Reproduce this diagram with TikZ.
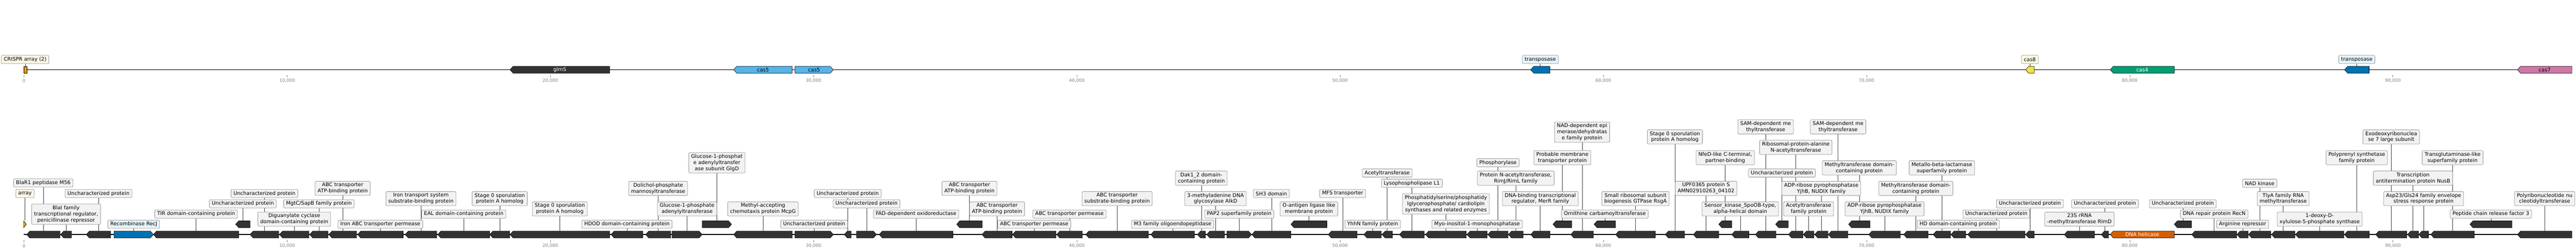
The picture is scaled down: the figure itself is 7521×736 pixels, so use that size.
\documentclass[tikz,border=0pt]{standalone}
\usepackage{fontspec}
\setmainfont{DejaVu Sans}
\usetikzlibrary{positioning}

\definecolor{genedark}{HTML}{333333}
\definecolor{crispr}{HTML}{E69F00}
\definecolor{tnpblue}{HTML}{0072B2}
\definecolor{casblue}{HTML}{56B4E9}
\definecolor{casyellow}{HTML}{F0E442}
\definecolor{casgreen}{HTML}{009E73}
\definecolor{helicase}{HTML}{D55E00}
\definecolor{caspink}{HTML}{CC79A7}
\definecolor{boxgray}{HTML}{F2F2F2}
\definecolor{boxline}{HTML}{999999}
\definecolor{boxcream}{HTML}{FEF6E6}
\definecolor{boxblue}{HTML}{E6F4FB}
\definecolor{boxyellow}{HTML}{FDFBE3}

\newcommand{\lblfont}{\fontsize{15}{18}\selectfont}
\newcommand{\tickfont}{\fontsize{13}{15}\selectfont}

\pgfdeclarelayer{bg}
\pgfsetlayers{bg,main}

% gene arrow: name, start, end, y, direction (L/R/N), fill, text
\newcommand{\gene}[7]{%
  \pgfmathsetmacro{\gtip}{min(9,#3-#2)}%
  \if#5N\def\gtip{0}\fi
  \if#5L
    \filldraw[genebody,#6] (#2,#4) -- (#2+\gtip,#4-10) -- (#3,#4-10) -- (#3,#4+10) -- (#2+\gtip,#4+10) -- cycle;
  \else
    \filldraw[genebody,#6] (#3,#4) -- (#3-\gtip,#4-10) -- (#2,#4-10) -- (#2,#4+10) -- (#3-\gtip,#4+10) -- cycle;
  \fi
  \node[genetext,minimum width={#3-#2}] (#1) at ({(#2+#3)/2},#4) {#7};
}

\begin{document}
\begin{tikzpicture}[x=1pt,y=-1pt,
  track/.style={line width=2.2pt},
  genebody/.style={draw=black,line width=0.9pt},
  dark/.style={fill=genedark},
  genetext/.style={inner sep=0pt,minimum height=20pt,font=\lblfont},
  lbl/.style={draw=boxline,fill=boxgray,rounded corners=3pt,line width=1.2pt,inner xsep=7pt,inner ysep=4.5pt,minimum height=24pt,align=center,font=\lblfont},
  conn/.style={draw=black!75,line width=0.8pt},
  tickmark/.style={draw=gray,line width=0.8pt},
  ticklbl/.style={text=gray,font=\tickfont,inner sep=0pt}]
\useasboundingbox (0,0) rectangle (7521,736);

% backbones
\draw[track] (69,204) -- (7509,204);
\draw[track] (69,686) -- (7509,686);

% ruler
\foreach \x/\t [count=\i] in {70/0,838.5/{10,000},1607/{20,000},2375.5/{30,000},3144/{40,000},3912.5/{50,000},4681/{60,000},5449.5/{70,000},6218/{80,000},6986.5/{90,000}} {
  \draw[tickmark] (\x,220) -- (\x,225);
  \node[ticklbl] (tt\i) at (\x,236) {\t};
  \draw[tickmark] (\x,703) -- (\x,708);
  \node[ticklbl] (bt\i) at (\x,719) {\t};
}

% top track
\gene{t1}{69}{78}{204}{N}{fill=crispr}{}
\gene{t2}{1489}{1780}{204}{L}{dark}{\color{white}glmS}
\gene{t3}{2142}{2313}{204}{L}{fill=casblue}{cas5}
\gene{t4}{2321}{2433}{204}{R}{fill=casblue}{cas5}
\gene{t5}{4469}{4525}{204}{L}{fill=tnpblue}{}
\gene{t6}{5914}{5939}{204}{L}{fill=casyellow}{}
\gene{t7}{6161}{6348}{204}{L}{fill=casgreen}{\color{white}cas4}
\gene{t8}{6845}{6917}{204}{L}{fill=tnpblue}{}
\gene{t9}{7350}{7509}{204}{L}{fill=caspink}{cas7}

\node[lbl,fill=boxcream] (lt1) at (t1.north |- 0,174) {CRISPR array (2)};
\node[lbl,fill=boxblue] (lt5) at (t5.north |- 0,174) {transposase};
\node[lbl,fill=boxyellow] (lt6) at (t6.north |- 0,174) {cas8};
\node[lbl,fill=boxblue] (lt8) at (t8.north |- 0,174) {transposase};

% bottom track
\gene{b1}{69}{77}{656}{R}{fill=crispr}{}
\gene{b2}{78}{175}{686}{L}{dark}{}
\gene{b3}{177}{209}{686}{L}{dark}{}
\gene{b4}{252}{323}{686}{L}{dark}{}
\gene{b5}{333}{448}{686}{R}{fill=tnpblue}{}
\gene{b6}{448}{697}{686}{L}{dark}{}
\gene{b7}{688}{730}{656}{L}{dark}{}
\gene{b8}{730}{814}{686}{L}{dark}{}
\gene{b9}{816}{902}{686}{L}{dark}{}
\gene{b10}{904}{958}{686}{L}{dark}{}
\gene{b11}{960}{1041}{686}{L}{dark}{}
\gene{b12}{1044}{1177}{686}{L}{dark}{}
\gene{b13}{1183}{1275}{686}{L}{dark}{}
\gene{b14}{1278}{1430}{686}{L}{dark}{}
\gene{b15}{1430}{1488}{686}{L}{dark}{}
\gene{b16}{1489}{1780}{686}{L}{dark}{}
\gene{b17}{1784}{1877}{686}{L}{dark}{}
\gene{b18}{1885}{1958}{686}{L}{dark}{}
\gene{b19}{1962}{2050}{686}{R}{dark}{}
\gene{b20}{2050}{2136}{656}{R}{dark}{}
\gene{b21}{2142}{2313}{686}{L}{dark}{}
\gene{b22}{2321}{2433}{686}{R}{dark}{}
\gene{b23}{2465}{2485}{686}{L}{dark}{}
\gene{b24}{2501}{2559}{686}{R}{dark}{}
\gene{b25}{2567}{2782}{686}{L}{dark}{}
\gene{b26}{2793}{2868}{656}{L}{dark}{}
\gene{b27}{2867}{2955}{686}{L}{dark}{}
\gene{b28}{2956}{3083}{686}{L}{dark}{}
\gene{b29}{3085}{3160}{686}{L}{dark}{}
\gene{b30}{3170}{3353}{686}{L}{dark}{}
\gene{b31}{3360}{3487}{686}{L}{dark}{}
\gene{b32}{3496}{3519}{686}{L}{dark}{}
\gene{b33}{3523}{3575}{686}{L}{dark}{}
\gene{b34}{3582}{3654}{686}{R}{dark}{}
\gene{b35}{3655}{3769}{686}{L}{dark}{}
\gene{b36}{3769}{3874}{656}{L}{dark}{}
\gene{b37}{3878}{3962}{686}{L}{dark}{}
\gene{b38}{3982}{4033}{686}{L}{dark}{}
\gene{b39}{4035}{4065}{686}{L}{dark}{}
\gene{b40}{4086}{4158}{686}{L}{dark}{}
\gene{b41}{4162}{4281}{686}{L}{dark}{}
\gene{b42}{4283}{4342}{686}{L}{dark}{}
\gene{b43}{4344}{4403}{686}{L}{dark}{}
\gene{b44}{4404}{4447}{686}{L}{dark}{}
\gene{b45}{4469}{4525}{686}{L}{dark}{}
\gene{b46}{4534}{4589}{656}{L}{dark}{}
\gene{b47}{4586}{4652}{686}{L}{dark}{}
\gene{b48}{4654}{4717}{656}{L}{dark}{}
\gene{b49}{4717}{4833}{686}{L}{dark}{}
\gene{b50}{4862}{4918}{686}{L}{dark}{}
\gene{b51}{4944}{5018}{686}{L}{dark}{}
\gene{b52}{5018}{5056}{656}{L}{dark}{}
\gene{b53}{5056}{5106}{686}{L}{dark}{}
\gene{b54}{5125}{5185}{686}{L}{dark}{}
\gene{b55}{5184}{5221}{656}{L}{dark}{}
\gene{b56}{5222}{5264}{686}{L}{dark}{}
\gene{b57}{5265}{5296}{686}{L}{dark}{}
\gene{b58}{5298}{5337}{686}{L}{dark}{}
\gene{b59}{5338}{5395}{686}{L}{dark}{}
\gene{b60}{5397}{5460}{656}{L}{dark}{}
\gene{b61}{5456}{5548}{686}{L}{dark}{}
\gene{b62}{5558}{5629}{686}{L}{dark}{}
\gene{b63}{5644}{5695}{686}{L}{dark}{}
\gene{b64}{5696}{5739}{686}{L}{dark}{}
\gene{b65}{5745}{5912}{686}{L}{dark}{}
\gene{b66}{5914}{5939}{686}{L}{dark}{}
\gene{b67}{6027}{6115}{686}{L}{dark}{}
\gene{b68}{6135}{6156}{686}{L}{dark}{}
\gene{b69}{6161}{6348}{686}{L}{fill=helicase}{\color{white}DNA helicase}
\gene{b70}{6348}{6398}{656}{L}{dark}{}
\gene{b71}{6399}{6530}{686}{L}{dark}{}
\gene{b72}{6531}{6564}{686}{L}{dark}{}
\gene{b73}{6565}{6630}{686}{L}{dark}{}
\gene{b74}{6632}{6700}{686}{L}{dark}{}
\gene{b75}{6702}{6843}{686}{L}{dark}{}
\gene{b76}{6845}{6917}{686}{L}{dark}{}
\gene{b77}{6936}{7027}{686}{L}{dark}{}
\gene{b78}{7029}{7061}{686}{L}{dark}{}
\gene{b79}{7062}{7090}{686}{L}{dark}{}
\gene{b80}{7097}{7224}{686}{L}{dark}{}
\gene{b81}{7211}{7334}{656}{L}{dark}{}
\gene{b82}{7350}{7509}{686}{L}{dark}{}

% labels
\node[lbl,fill=boxcream] (lb1) at (b1.north |- 0,566) {array};
\node[lbl] (lb2) at (b2.north |- 0,535) {BlaR1 peptidase M56};
\node[lbl] (lb3) at (b3.north |- 0,626.5) {BlaI family\\transcriptional regulator,\\penicillinase repressor};
\node[lbl] (lb4) at (b4.north |- 0,566) {Uncharacterized protein};
\node[lbl,fill=boxblue] (lb5) at (b5.north |- 0,656) {Recombinase RecJ};
\node[lbl] (lb6) at (b6.north |- 0,626) {TIR domain-containing protein};
\node[lbl] (lb7) at (b7.north |- 0,596) {Uncharacterized protein};
\node[lbl] (lb8) at (b8.north |- 0,566) {Uncharacterized protein};
\node[lbl] (lb9) at (b9.north |- 0,641) {Diguanylate cyclase\\domain-containing protein};
\node[lbl] (lb10) at (b10.north |- 0,596) {MgtC/SapB family protein};
\node[lbl] (lb11) at (b11.north |- 0,551) {ABC transporter\\ATP-binding protein};
\node[lbl] (lb12) at (b12.north |- 0,656) {Iron ABC transporter permease};
\node[lbl] (lb13) at (b13.north |- 0,581) {Iron transport system\\substrate-binding protein};
\node[lbl] (lb14) at (b14.north |- 0,626) {EAL domain-containing protein};
\node[lbl] (lb15) at (b15.north |- 0,581) {Stage 0 sporulation\\protein A homolog};
\node[lbl] (lb16) at (b16.north |- 0,611) {Stage 0 sporulation\\protein A homolog};
\node[lbl] (lb17) at (b17.north |- 0,656) {HDOD domain-containing protein};
\node[lbl] (lb18) at (b18.north |- 0,551) {Dolichol-phosphate\\mannosyltransferase};
\node[lbl] (lb19) at (b19.north |- 0,611) {Glucose-1-phosphate\\adenylyltransferase};
\node[lbl] (lb20) at (b20.north |- 0,476) {Glucose-1-phosphat\\e adenylyltransfer\\ase subunit GlgD};
\node[lbl] (lb21) at (b21.north |- 0,611) {Methyl-accepting\\chemotaxis protein McpG};
\node[lbl] (lb22) at (b22.north |- 0,656) {Uncharacterized protein};
\node[lbl] (lb23) at (b23.north |- 0,566) {Uncharacterized protein};
\node[lbl] (lb24) at (b24.north |- 0,596) {Uncharacterized protein};
\node[lbl] (lb25) at (b25.north |- 0,626) {FAD-dependent oxidoreductase};
\node[lbl] (lb26) at (b26.north |- 0,551) {ABC transporter\\ATP-binding protein};
\node[lbl] (lb27) at (b27.north |- 0,611) {ABC transporter\\ATP-binding protein};
\node[lbl] (lb28) at (b28.north |- 0,656) {ABC transporter permease};
\node[lbl] (lb29) at (b29.north |- 0,626) {ABC transporter permease};
\node[lbl] (lb30) at (b30.north |- 0,581) {ABC transporter\\substrate-binding protein};
\node[lbl] (lb31) at (b31.north |- 0,656) {M3 family oligoendopeptidase};
\node[lbl] (lb32) at (b32.north |- 0,521) {Dak1\_2 domain-\\containing protein};
\node[lbl] (lb33) at (b33.north |- 0,581) {3-methyladenine DNA\\glycosylase AlkD};
\node[lbl] (lb34) at (b34.north |- 0,626) {PAP2 superfamily protein};
\node[lbl] (lb35) at (b35.north |- 0,566) {SH3 domain};
\node[lbl] (lb36) at (b36.north |- 0,611) {O-antigen ligase like\\membrane protein};
\node[lbl] (lb37) at (b37.north |- 0,566) {MFS transporter};
\node[lbl] (lb38) at (b38.north |- 0,656) {YhhN family protein};
\node[lbl] (lb39) at (b39.north |- 0,506) {Acetyltransferase};
\node[lbl] (lb40) at (b40.north |- 0,536) {Lysophospholipase L1};
\node[lbl] (lb41) at (b41.north |- 0,596.5) {Phosphatidylserine/phosphatidy\\lglycerophosphate/ cardiolipin\\synthases and related enzymes};
\node[lbl] (lb42) at (b42.north |- 0,656) {Myo-inositol-1-monophosphatase};
\node[lbl] (lb43) at (b43.north |- 0,476) {Phosphorylase};
\node[lbl] (lb44) at (b44.north |- 0,521) {Protein N-acetyltransferase,\\RimJ/RimL family};
\node[lbl] (lb45) at (b45.north |- 0,581) {DNA-binding transcriptional\\regulator, MerR family};
\node[lbl] (lb46) at (b46.north |- 0,461) {Probable membrane\\transporter protein};
\node[lbl] (lb47) at (b47.north |- 0,386.5) {NAD-dependent epi\\merase/dehydratas\\e family protein};
\node[lbl] (lb48) at (b48.north |- 0,626) {Ornithine carbamoyltransferase};
\node[lbl] (lb49) at (b49.north |- 0,581) {Small ribosomal subunit\\biogenesis GTPase RsgA};
\node[lbl] (lb50) at (b50.north |- 0,400.5) {Stage 0 sporulation\\protein A homolog};
\node[lbl] (lb51) at (b51.north |- 0,551) {UPF0365 protein S\\AMN02910263\_04102};
\node[lbl] (lb52) at (b52.north |- 0,461) {NfeD-like C-terminal,\\partner-binding};
\node[lbl] (lb53) at (b53.north |- 0,611) {Sensor\_kinase\_SpoOB-type,\\alpha-helical domain};
\node[lbl] (lb54) at (b54.north |- 0,371) {SAM-dependent me\\thyltransferase};
\node[lbl] (lb55) at (b55.north |- 0,506) {Uncharacterized protein};
\node[lbl] (lb56) at (b56.north |- 0,431) {Ribosomal-protein-alanine\\N-acetyltransferase};
\node[lbl] (lb57) at (b57.north |- 0,611) {Acetyltransferase\\family protein};
\node[lbl] (lb58) at (b58.north |- 0,551) {ADP-ribose pyrophosphatase\\YjhB, NUDIX family};
\node[lbl] (lb59) at (b59.north |- 0,371) {SAM-dependent me\\thyltransferase};
\node[lbl] (lb60) at (b60.north |- 0,491) {Methyltransferase domain-\\containing protein};
\node[lbl] (lb61) at (b61.north |- 0,611) {ADP-ribose pyrophosphatase\\YjhB, NUDIX family};
\node[lbl] (lb62) at (b62.north |- 0,551) {Methyltransferase domain-\\containing protein};
\node[lbl] (lb63) at (b63.north |- 0,491) {Metallo-beta-lactamase\\superfamily protein};
\node[lbl] (lb64) at (b64.north |- 0,656) {HD domain-containing protein};
\node[lbl] (lb65) at (b65.north |- 0,626) {Uncharacterized protein};
\node[lbl] (lb66) at (b66.north |- 0,596) {Uncharacterized protein};
\node[lbl] (lb67) at (b67.north |- 0,641) {23S rRNA\\-methyltransferase RlmD};
\node[lbl] (lb68) at (b68.north |- 0,596) {Uncharacterized protein};
\node[lbl] (lb70) at (b70.north |- 0,596) {Uncharacterized protein};
\node[lbl] (lb71) at (b71.north |- 0,626) {DNA repair protein RecN};
\node[lbl] (lb72) at (b72.north |- 0,656) {Arginine repressor};
\node[lbl] (lb73) at (b73.north |- 0,536) {NAD kinase};
\node[lbl] (lb74) at (b74.north |- 0,581) {TlyA family RNA\\methyltransferase};
\node[lbl] (lb75) at (b75.north |- 0,641) {1-deoxy-D-\\xylulose-5-phosphate synthase};
\node[lbl] (lb76) at (b76.north |- 0,461) {Polyprenyl synthetase\\family protein};
\node[lbl] (lb77) at (b77.north |- 0,400.5) {Exodeoxyribonuclea\\se 7 large subunit};
\node[lbl] (lb78) at (b78.north |- 0,521) {Transcription\\antitermination protein NusB};
\node[lbl] (lb79) at (b79.north |- 0,581) {Asp23/Gls24 family envelope\\stress response protein};
\node[lbl] (lb80) at (b80.north |- 0,461) {Transglutaminase-like\\superfamily protein};
\node[lbl] (lb81) at (b81.north |- 0,626) {Peptide chain release factor 3};
\node[lbl] (lb82) at (b82.north |- 0,581) {Polyribonucleotide nu\\cleotidyltransferase};

% leader lines, behind the boxes
\begin{pgfonlayer}{bg}
\draw[conn] (lt1) -- (t1.north);
\draw[conn] (lt5) -- (t5.north);
\draw[conn] (lt6) -- (t6.north);
\draw[conn] (lt8) -- (t8.north);
\draw[conn] (lb1) -- (b1.north);
\draw[conn] (lb2) -- (b2.north);
\draw[conn] (lb3) -- (b3.north);
\draw[conn] (lb4) -- (b4.north);
\draw[conn] (lb5) -- (b5.north);
\draw[conn] (lb6) -- (b6.north);
\draw[conn] (lb7) -- (b7.north);
\draw[conn] (lb8) -- (b8.north);
\draw[conn] (lb9) -- (b9.north);
\draw[conn] (lb10) -- (b10.north);
\draw[conn] (lb11) -- (b11.north);
\draw[conn] (lb12) -- (b12.north);
\draw[conn] (lb13) -- (b13.north);
\draw[conn] (lb14) -- (b14.north);
\draw[conn] (lb15) -- (b15.north);
\draw[conn] (lb16) -- (b16.north);
\draw[conn] (lb17) -- (b17.north);
\draw[conn] (lb18) -- (b18.north);
\draw[conn] (lb19) -- (b19.north);
\draw[conn] (lb20) -- (b20.north);
\draw[conn] (lb21) -- (b21.north);
\draw[conn] (lb22) -- (b22.north);
\draw[conn] (lb23) -- (b23.north);
\draw[conn] (lb24) -- (b24.north);
\draw[conn] (lb25) -- (b25.north);
\draw[conn] (lb26) -- (b26.north);
\draw[conn] (lb27) -- (b27.north);
\draw[conn] (lb28) -- (b28.north);
\draw[conn] (lb29) -- (b29.north);
\draw[conn] (lb30) -- (b30.north);
\draw[conn] (lb31) -- (b31.north);
\draw[conn] (lb32) -- (b32.north);
\draw[conn] (lb33) -- (b33.north);
\draw[conn] (lb34) -- (b34.north);
\draw[conn] (lb35) -- (b35.north);
\draw[conn] (lb36) -- (b36.north);
\draw[conn] (lb37) -- (b37.north);
\draw[conn] (lb38) -- (b38.north);
\draw[conn] (lb39) -- (b39.north);
\draw[conn] (lb40) -- (b40.north);
\draw[conn] (lb41) -- (b41.north);
\draw[conn] (lb42) -- (b42.north);
\draw[conn] (lb43) -- (b43.north);
\draw[conn] (lb44) -- (b44.north);
\draw[conn] (lb45) -- (b45.north);
\draw[conn] (lb46) -- (b46.north);
\draw[conn] (lb47) -- (b47.north);
\draw[conn] (lb48) -- (b48.north);
\draw[conn] (lb49) -- (b49.north);
\draw[conn] (lb50) -- (b50.north);
\draw[conn] (lb51) -- (b51.north);
\draw[conn] (lb52) -- (b52.north);
\draw[conn] (lb53) -- (b53.north);
\draw[conn] (lb54) -- (b54.north);
\draw[conn] (lb55) -- (b55.north);
\draw[conn] (lb56) -- (b56.north);
\draw[conn] (lb57) -- (b57.north);
\draw[conn] (lb58) -- (b58.north);
\draw[conn] (lb59) -- (b59.north);
\draw[conn] (lb60) -- (b60.north);
\draw[conn] (lb61) -- (b61.north);
\draw[conn] (lb62) -- (b62.north);
\draw[conn] (lb63) -- (b63.north);
\draw[conn] (lb64) -- (b64.north);
\draw[conn] (lb65) -- (b65.north);
\draw[conn] (lb66) -- (b66.north);
\draw[conn] (lb67) -- (b67.north);
\draw[conn] (lb68) -- (b68.north);
\draw[conn] (lb70) -- (b70.north);
\draw[conn] (lb71) -- (b71.north);
\draw[conn] (lb72) -- (b72.north);
\draw[conn] (lb73) -- (b73.north);
\draw[conn] (lb74) -- (b74.north);
\draw[conn] (lb75) -- (b75.north);
\draw[conn] (lb76) -- (b76.north);
\draw[conn] (lb77) -- (b77.north);
\draw[conn] (lb78) -- (b78.north);
\draw[conn] (lb79) -- (b79.north);
\draw[conn] (lb80) -- (b80.north);
\draw[conn] (lb81) -- (b81.north);
\draw[conn] (lb82) -- (b82.north);
\end{pgfonlayer}
\end{tikzpicture}
\end{document}
